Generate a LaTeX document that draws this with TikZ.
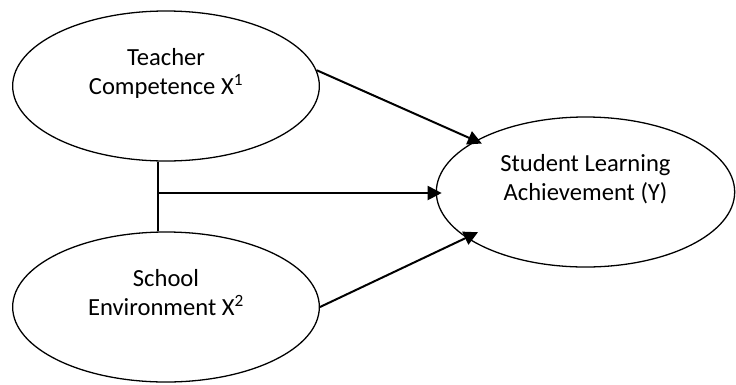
\documentclass[tikz,border=0pt]{standalone}
\usepackage{fontspec}
\setmainfont{Carlito}
\usepackage{tikz}
\usetikzlibrary{arrows.meta,shapes.geometric,calc}
\tikzset{
  var/.style={ellipse, draw=black, line width=1.1pt, minimum width=9.2cm,
              minimum height=4.5cm, align=center, inner sep=0pt,
              font=\fontsize{21}{25}\selectfont},
  flow/.style={-{Triangle[length=12pt, width=12pt]}, line width=1.7pt},
  link/.style={line width=1.7pt}
}

\begin{document}
\begin{tikzpicture}[x=0.03cm, y=-0.03cm]
\useasboundingbox (0,0) rectangle (736,384);
\node[var] (t) at (166,86) {Teacher\\Competence X\textsuperscript{1}\\\mbox{}};
\node[var] (b) at (166,307) {School\\Environment X\textsuperscript{2}\\\mbox{}};
\node[var, minimum width=8.95cm] (s) at (585.5,192) {Student Learning\\Achievement (Y)\\\mbox{}};
\coordinate (j) at ($(t.-96)!0.45!(b.96)$);
\draw[link] (t.-96) -- (b.96);
\draw[flow, shorten >=-0.18cm] (j) -- (j -| s.west);
\draw[flow, shorten >=-0.21cm] (t.6) -- (s.155);
\draw[flow, shorten >=-0.39cm] (b.east) -- (s.201);
\end{tikzpicture}
\end{document}
